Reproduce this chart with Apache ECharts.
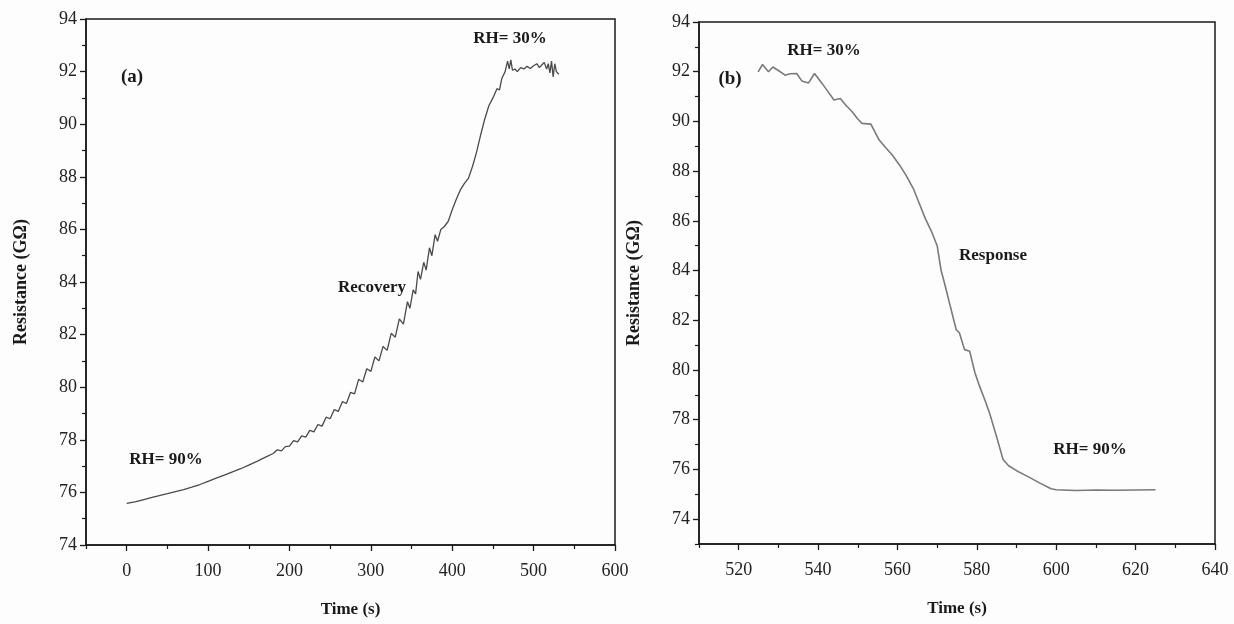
<!DOCTYPE html>
<html><head><meta charset="utf-8">
<script src="https://cdn.jsdelivr.net/npm/echarts@6/dist/echarts.min.js"></script>
<style>html,body{margin:0;padding:0;background:#fdfdfd}#c{width:1234px;height:624px}</style>
</head><body><div id="c"></div>
<script>
// Panel (a): recovery, Time (s) vs Resistance (GΩ)
const recoveryTime = [0,10,20,30,40,50,60,70,80,90,100,110,120,130,140,150,160,170,180,
 185,190,195,200,205,210,215,220,225,230,235,240,245,250,255,260,265,270,275,280,285,290,295,300,
 305,310,315,320,325,330,335,340,345,348,352,355,358,361,365,368,372,375,379,382,386,390,395,400,
 405,410,415,420,425,430,435,440,445,450,455,458,461,465,468,470,472,474,477,480,484,488,492,496,
 500,504,507,510,513,516,518,520,522,524,526,528,531];
const recoveryRes = [75.58,75.64,75.72,75.80,75.88,75.95,76.03,76.11,76.20,76.30,76.42,76.54,76.66,76.78,76.90,77.04,77.18,77.33,77.48,
 77.62,77.58,77.74,77.76,77.97,77.92,78.15,78.10,78.36,78.30,78.58,78.52,78.86,78.80,79.15,79.08,79.45,79.38,79.80,79.75,80.30,80.20,80.70,80.60,
 81.15,81.00,81.55,81.40,82.05,81.90,82.60,82.40,83.25,83.00,83.70,83.55,84.40,84.10,84.75,84.45,85.30,85.00,85.80,85.55,86.00,86.10,86.30,86.75,
 87.15,87.50,87.75,87.95,88.40,88.95,89.60,90.20,90.70,91.00,91.35,91.30,91.75,92.00,92.40,92.10,92.45,92.05,92.10,92.00,92.15,92.10,92.20,92.12,
 92.22,92.30,92.15,92.25,92.35,92.10,92.30,91.95,92.40,91.80,92.30,92.00,91.90];

// Panel (b): response
const responseTime = [524.9,526,527.5,528.6,530,531.7,533,534.6,535.9,537.6,539.1,541,542.5,544,545.6,547,548.6,550,551.1,553.3,
 555.4,557,558.7,560.5,562.1,564,565.5,567,568.5,570,571,572,573.1,574.8,575.6,576.9,578.2,579.5,580.7,582,583.2,585,586.6,
 588,590,593,595.9,598.7,600,605,610,615,620,625];
const responseRes = [91.99,92.29,92.00,92.19,92.05,91.86,91.92,91.93,91.63,91.55,91.93,91.53,91.20,90.86,90.92,90.65,90.39,90.10,89.92,89.89,
 89.25,88.95,88.65,88.25,87.85,87.30,86.70,86.10,85.60,85.00,84.00,83.40,82.70,81.62,81.50,80.82,80.75,79.90,79.34,78.80,78.27,77.30,76.40,
 76.15,75.95,75.70,75.45,75.22,75.18,75.15,75.17,75.16,75.17,75.18];

const xMajorA = [0,100,200,300,400,500,600];
const xMinorA = [-50,50,150,250,350,450,550];
const yMajorA = [74,76,78,80,82,84,86,88,90,92,94];
const yMinorA = [75,77,79,81,83,85,87,89,91,93];
const xMajorB = [520,540,560,580,600,620,640];
const xMinorB = [510,530,550,570,590,610,630];
const yMajorB = [74,76,78,80,82,84,86,88,90,92,94];
const yMinorB = [73,75,77,79,81,83,85,87,89,91,93];

const serif = '"Liberation Serif","DejaVu Serif",serif';
const ink = '#1a1a1a';

function mainAxis(kind, grid, min, max, major, name) {
  const isX = kind === 'x';
  return {
    type: 'value', gridIndex: grid, min: min, max: max,
    position: isX ? 'bottom' : 'left',
    name: name, nameLocation: 'middle', nameGap: isX ? 56 : 56,
    nameRotate: isX ? 0 : 90,
    nameTextStyle: {fontFamily: serif, fontWeight: 'bold', fontSize: isX ? 17 : 18, color: ink},
    axisLine: {show: true, onZero: false, lineStyle: {color: ink, width: 1.5}},
    axisTick: {show: true, inside: false, length: 6, customValues: major, lineStyle: {color: ink, width: 1.3}},
    axisLabel: {show: true, customValues: major, margin: isX ? 17 : 9,
      fontFamily: serif, fontSize: 18, color: '#222'},
    splitLine: {show: false}
  };
}
function minorAxis(kind, grid, min, max, minor) {
  return {
    type: 'value', gridIndex: grid, min: min, max: max,
    position: kind === 'x' ? 'bottom' : 'left',
    axisLine: {show: false, onZero: false},
    axisTick: {show: true, inside: false, length: 4, customValues: minor, lineStyle: {color: ink, width: 1.2}},
    axisLabel: {show: false},
    splitLine: {show: false}
  };
}

const chart = echarts.init(document.getElementById('c'), null, {renderer: 'canvas'});
const txt = (x, y, s, size) => ({type: 'text', x: x, y: y,
  style: {text: s, fontFamily: serif, fontWeight: 'bold', fontSize: size || 17, fill: ink,
          align: 'center', verticalAlign: 'middle'}});

chart.setOption({
  backgroundColor: '#fdfdfd',
  animation: false,
  grid: [
    {left: 86, top: 19, width: 529, height: 526, show: true, borderColor: ink, borderWidth: 1.5, backgroundColor: 'transparent'},
    {left: 699, top: 22, width: 516, height: 522, show: true, borderColor: ink, borderWidth: 1.5, backgroundColor: 'transparent'}
  ],
  xAxis: [
    mainAxis('x', 0, -50, 600, xMajorA, 'Time (s)'),
    minorAxis('x', 0, -50, 600, xMinorA),
    mainAxis('x', 1, 510, 640, xMajorB, 'Time (s)'),
    minorAxis('x', 1, 510, 640, xMinorB)
  ],
  yAxis: [
    mainAxis('y', 0, 74, 94, yMajorA, 'Resistance (GΩ)'),
    minorAxis('y', 0, 74, 94, yMinorA),
    mainAxis('y', 1, 73, 94, yMajorB, 'Resistance (GΩ)'),
    minorAxis('y', 1, 73, 94, yMinorB)
  ],
  series: [
    {type: 'line', xAxisIndex: 0, yAxisIndex: 0, showSymbol: false, smooth: false,
     lineStyle: {color: '#4a4a4a', width: 1.3},
     data: recoveryTime.map((t, i) => [t, recoveryRes[i]])},
    {type: 'line', xAxisIndex: 2, yAxisIndex: 2, showSymbol: false, smooth: false,
     lineStyle: {color: '#7a7a7a', width: 1.6},
     data: responseTime.map((t, i) => [t, responseRes[i]])}
  ],
  graphic: [
    txt(132, 77, '(a)', 19),
    txt(510, 39, 'RH= 30%'),
    txt(372, 288, 'Recovery'),
    txt(166, 460, 'RH= 90%'),
    txt(730, 79, '(b)', 19),
    txt(824, 51, 'RH= 30%'),
    txt(993, 256, 'Response'),
    txt(1090, 450, 'RH= 90%')
  ]
});
</script>
</body></html>
